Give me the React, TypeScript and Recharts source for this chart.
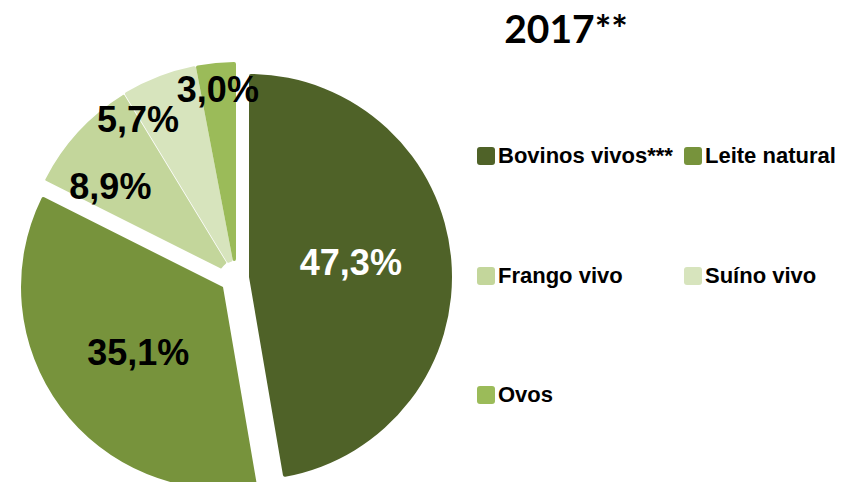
import React from 'react';
import { PieChart, Pie, Cell, Legend } from 'recharts';

// ---- data ----
const CATEGORIES = ['Bovinos vivos***', 'Leite natural', 'Frango vivo', 'Suíno vivo', 'Ovos'];
const SHARES = [47.3, 35.1, 8.9, 5.7, 3.0];
const LABELS = ['47,3%', '35,1%', '8,9%', '5,7%', '3,0%'];
const TITLE = '2017**';

// ---- styles ----
const COLORS = ['#4F6228', '#77933C', '#C3D69B', '#D7E4BD', '#9BBB59'];
const LABEL_COLORS = ['#FFFFFF', '#000000', '#000000', '#000000', '#000000'];
const FONT = "'Liberation Sans', Arial, Helvetica, sans-serif";

const data = CATEGORIES.map((name, i) => ({ name, value: SHARES[i] }));

// exploded groups: each Pie draws only the slices of its group
const GROUPS = [
  { members: [0], cx: 249, cy: 277, outer: 203, inner: 0 },
  { members: [1], cx: 223, cy: 287, outer: 202, inner: 0 },
  { members: [2, 3, 4], cx: 236, cy: 277, outer: 215, inner: 16 },
];

// label placement (distance from slice centre, angle shift in degrees)
const LABEL_LAYOUT = [
  { d: 103, shift: -3.7 },
  { d: 107, shift: -1.1 },
  { d: 155, shift: -6.8 },
  { d: 185.5, shift: -10.8 },
  { d: 189, shift: -0.1 },
];

const makeLabel = (members: number[]) => (props: any) => {
  const { cx, cy, midAngle, index } = props;
  if (!members.includes(index)) return null;
  const { d, shift } = LABEL_LAYOUT[index];
  const theta = ((90 - midAngle + shift) * Math.PI) / 180;
  const x = cx + d * Math.sin(theta);
  const y = cy - d * Math.cos(theta);
  return (
    <text
      x={x}
      y={y}
      dy="0.36em"
      textAnchor="middle"
      fill={LABEL_COLORS[index]}
      fontSize={36}
      fontWeight="bold"
      fontFamily={FONT}
    >
      {LABELS[index]}
    </text>
  );
};

const renderLegend = (props: any) => {
  const payload = (props.payload || [])
    .filter((e: any) => e.type !== 'none')
    .slice()
    .sort((a: any, b: any) => CATEGORIES.indexOf(a.value) - CATEGORIES.indexOf(b.value));
  return (
    <div style={{ position: 'relative', width: 365, height: 262 }}>
      {payload.map((entry: any, i: number) => {
        const idx = CATEGORIES.indexOf(entry.value);
        return (
          <div
            key={i}
            style={{
              position: 'absolute',
              left: (i % 2) * 207,
              top: Math.floor(i / 2) * 119.5,
              display: 'flex',
              alignItems: 'center',
              height: 22,
              whiteSpace: 'nowrap',
            }}
          >
            <span
              style={{
                display: 'inline-block',
                width: 18,
                height: 18,
                borderRadius: 3,
                background: idx >= 0 ? COLORS[idx] : entry.color,
                marginRight: 3,
              }}
            />
            <span
              style={{
                fontFamily: FONT,
                fontWeight: 'bold',
                fontSize: 22,
                lineHeight: '22px',
                color: '#000',
              }}
            >
              {entry.value}
            </span>
          </div>
        );
      })}
    </div>
  );
};

export default function App() {
  return (
    <div style={{ position: 'absolute', left: 0, top: 0, width: 842, height: 482, background: '#fff' }}>
      <PieChart width={842} height={482} margin={{ top: 0, right: 0, bottom: 0, left: 0 }}>
        {GROUPS.map((g, gi) => (
          <Pie
            key={gi}
            data={data}
            dataKey="value"
            nameKey="name"
            cx={g.cx}
            cy={g.cy}
            outerRadius={g.outer}
            innerRadius={g.inner}
            startAngle={90}
            endAngle={-270}
            cornerRadius={2}
            paddingAngle={0}
            isAnimationActive={false}
            legendType={gi === 0 ? 'rect' : 'none'}
            labelLine={false}
            label={makeLabel(g.members)}
          >
            {data.map((_, i) => {
              const own = g.members.includes(i);
              return (
                <Cell
                  key={i}
                  fill={COLORS[i]}
                  fillOpacity={own ? 1 : 0}
                  stroke={own && i === 2 ? '#FFFFFF' : 'none'}
                  strokeWidth={own && i === 2 ? 1.5 : 0}
                />
              );
            })}
          </Pie>
        ))}
        <text
          x={566}
          y={43}
          textAnchor="middle"
          fontSize={39}
          fontWeight="bold"
          fontFamily="Lato, 'Open Sans', sans-serif"
          fill="#000"
        >
          {TITLE}
        </text>
        <Legend
          layout="vertical"
          align="right"
          verticalAlign="top"
          itemSorter={null as any}
          content={renderLegend}
          wrapperStyle={{ position: 'absolute', left: 477, top: 145, width: 365, height: 262 }}
        />
      </PieChart>
    </div>
  );
}
